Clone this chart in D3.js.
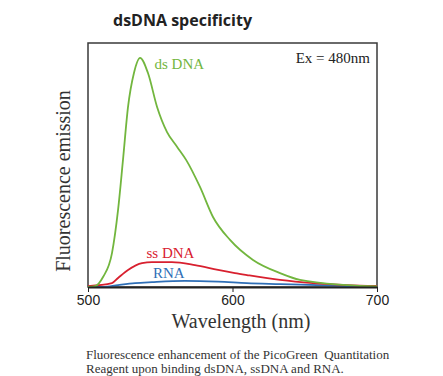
<!DOCTYPE html>
<html>
<head>
<meta charset="utf-8">
<script src="https://cdn.jsdelivr.net/npm/d3@7"></script>
<style>
  body { margin: 0; background: #fff; }
</style>
</head>
<body>
<div id="chart"></div>
<script>
// emission spectra (arbitrary units, 100 = top of frame)
var dsWave = [500, 505, 510.4, 516.6, 520.8, 524.2, 527.7, 531.8, 536, 541.5, 547.8, 554.7, 561.6, 568, 577.5, 586.5, 598.3, 614.2, 632.9, 646.7, 679, 700];
var dsVal  = [0, 0.4, 4.1, 13.9, 31.6, 52, 73.8, 87.7, 93.9, 87.7, 73.8, 63.5, 57.5, 52, 41, 28.7, 19.3, 11.1, 5.7, 2.9, 0.8, 0.2];
var ssWave = [500, 516.6, 520.8, 527.7, 537.4, 544.3, 558.1, 574, 590, 601.7, 610, 632.9, 655.7, 679.2, 700];
var ssVal  = [0.4, 1.6, 3.7, 7.0, 9.8, 10.2, 10.2, 9.0, 7.0, 5.7, 4.9, 2.9, 1.6, 0.8, 0.4];
var rnaWave = [500, 510.4, 520.8, 532.6, 544.3, 567, 590, 610, 633, 679, 700];
var rnaVal  = [0, 0, 0.8, 1.6, 2.0, 2.5, 2.2, 1.6, 1.2, 0.4, 0.2];
var xTicks = [500, 600, 700];

var width = 443, height = 376;
var padding = { top: 43, right: 66, bottom: 89, left: 88 };

var svg = d3.select("#chart")
    .append("svg")
    .attr("width", width)
    .attr("height", height);

var xScale = d3.scaleLinear()
    .domain([500, 700])
    .range([padding.left, width - padding.right]);
var yScale = d3.scaleLinear()
    .domain([0, 100])
    .range([height - padding.bottom, padding.top]);

function zip(w, v) {
    return w.map(function(d, i) { return [d, v[i]]; });
}

var line = d3.line()
    .x(function(d) { return xScale(d[0]); })
    .y(function(d) { return yScale(d[1]); })
    .curve(d3.curveMonotoneX);

// frame
svg.append("rect")
    .attr("x", xScale(500))
    .attr("y", yScale(100))
    .attr("width", xScale(700) - xScale(500))
    .attr("height", yScale(0) - yScale(100))
    .attr("fill", "none")
    .attr("stroke", "#3a3a3a")
    .attr("stroke-width", 1.5);

var series = [
    { data: zip(rnaWave, rnaVal), color: "#2f6fb7" },
    { data: zip(ssWave, ssVal), color: "#d8202f" },
    { data: zip(dsWave, dsVal), color: "#72b63e" }
];
series.forEach(function(s) {
    svg.append("path")
        .attr("d", line(s.data))
        .attr("fill", "none")
        .attr("stroke", s.color)
        .attr("stroke-width", 1.8);
});

var xAxis = d3.axisBottom(xScale)
    .tickValues(xTicks)
    .tickSize(5)
    .tickSizeOuter(0)
    .tickPadding(3)
    .tickFormat(d3.format("d"));

var gx = svg.append("g")
    .attr("transform", "translate(0," + yScale(0) + ")")
    .call(xAxis);
gx.select(".domain").attr("stroke", "#222").attr("stroke-width", 2);
gx.selectAll("line").attr("stroke", "#222");
gx.selectAll("text")
    .attr("font-family", "Liberation Sans, Arial, sans-serif")
    .attr("font-size", 14)
    .attr("fill", "#222");

var serif = "Liberation Serif, Times New Roman, serif";

svg.append("text")
    .attr("x", 113)
    .attr("y", 26)
    .attr("font-family", "Open Sans, sans-serif")
    .attr("font-weight", "bold")
    .attr("font-size", 16)
    .attr("fill", "#222")
    .text("dsDNA specificity");

svg.append("text")
    .attr("x", 241)
    .attr("y", 328)
    .attr("text-anchor", "middle")
    .attr("font-family", serif)
    .attr("font-size", 20)
    .attr("fill", "#333")
    .text("Wavelength (nm)");

svg.append("text")
    .attr("transform", "translate(70," + 181 + ") rotate(-90)")
    .attr("text-anchor", "middle")
    .attr("font-family", serif)
    .attr("font-size", 20)
    .attr("fill", "#333")
    .text("Fluorescence emission");

svg.append("text")
    .attr("x", xScale(700) - 7)
    .attr("y", 63)
    .attr("text-anchor", "end")
    .attr("font-family", serif)
    .attr("font-size", 15)
    .attr("fill", "#222")
    .text("Ex = 480nm");

var labels = [
    { text: "ds DNA", wl: 546, v: 89.5, color: "#72b63e" },
    { text: "ss DNA", wl: 540.5, v: 12, color: "#d8202f" },
    { text: "RNA", wl: 545, v: 3.7, color: "#2f6fb7" }
];
labels.forEach(function(l) {
    svg.append("text")
        .attr("x", xScale(l.wl))
        .attr("y", yScale(l.v))
        .attr("font-family", serif)
        .attr("font-size", 15)
        .attr("fill", l.color)
        .text(l.text);
});

var caption = [
    "Fluorescence enhancement of the PicoGreen  Quantitation",
    "Reagent upon binding dsDNA, ssDNA and RNA."
];
caption.forEach(function(c, i) {
    svg.append("text")
        .attr("x", 86)
        .attr("y", 359 + i * 14)
        .attr("font-family", serif)
        .attr("font-size", 13)
        .attr("fill", "#333")
        .attr("xml:space", "preserve")
        .style("white-space", "pre")
        .text(c);
});
</script>
</body>
</html>
